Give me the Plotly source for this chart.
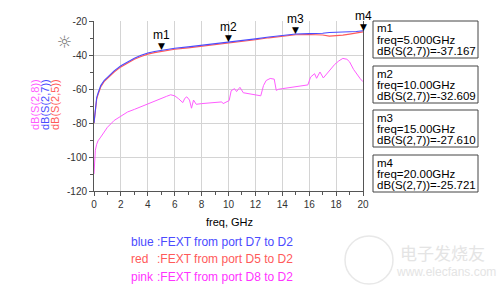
import plotly.graph_objects as go

# ---------------- data ----------------
freq_a = [0, 0.05, 0.1, 0.2, 0.3, 0.5, 0.75, 1, 1.5, 2, 2.5, 3, 3.5, 4, 4.5, 5,
          6, 7, 8, 9, 10, 11, 12, 13, 14, 15, 16, 16.5, 17, 17.5, 18, 18.5, 19, 19.5, 20]
s27_blue = [-80, -75, -70.5, -65, -62.5, -58, -55, -53, -49.3, -46.3, -43.9, -41.9, -40.2, -38.8, -37.9, -37.167,
            -36.0, -35.2, -34.3, -33.5, -32.609, -31.6, -30.5, -29.4, -28.4, -27.61, -27.4, -27.35, -27.2, -26.8, -26.6, -26.7, -26.6, -26.2, -25.721]
s25_red = [-80.2, -75.8, -71.5, -66, -63.3, -58.8, -55.7, -53.6, -50, -47, -44.5, -42.5, -40.9, -39.5, -38.6, -37.8,
           -36.6, -35.8, -34.9, -34.0, -33.1, -32.1, -31.0, -29.9, -28.9, -28.1, -27.9, -27.9, -28.2, -28.9, -28.7, -28.3, -27.7, -27.1, -26.4]

freq_p = [0, 0.03, 0.05, 0.1, 0.2, 0.3, 0.5, 0.75, 1, 1.5, 2, 2.5, 3, 3.5, 4, 4.5, 5, 5.4, 5.7, 6.0, 6.3, 6.6,
          6.75, 6.9, 7.1, 7.25, 7.4, 7.6, 8.0, 8.4, 8.8, 9.1, 9.5, 9.6, 9.9, 10.05, 10.2, 10.45, 10.6, 10.85,
          11.1, 11.6, 12.0, 12.4, 12.6, 12.8, 13.1, 13.4, 13.55, 13.7, 14.0, 14.5, 15.0, 15.5, 15.9, 16.1,
          16.4, 16.55, 16.8, 17.05, 17.3, 17.6, 17.9, 18.2, 18.5, 18.8, 19.0, 19.3, 19.6, 19.8, 20]
s28_pink = [-110, -104, -100, -96, -92.5, -90.5, -88.3, -85, -82.5, -78.5, -76, -73.5, -72, -70.3, -68.7, -67.2,
            -65.6, -64.3, -63.4, -64, -65.8, -68, -65.5, -64.6, -66.5, -71.3, -66.5, -69, -68.6, -68.3, -68.1,
            -68, -67.6, -68.6, -67.5, -66.8, -61, -59.8, -61.5, -59, -62.2, -63, -63.8, -64, -58, -55, -53.8,
            -54.2, -60.8, -60.2, -59.8, -59.2, -58.5, -58, -57.6, -53, -51, -53.7, -50, -53.5, -51, -48, -45.5,
            -43.5, -42, -42.5, -44, -48.5, -52, -54, -55.7]

marker_names = ["m1", "m2", "m3", "m4"]
marker_freq = [5, 10, 15, 20]
marker_freq_labels = ["5.000", "10.00", "15.00", "20.00"]
marker_db = [-37.167, -32.609, -27.610, -25.721]

x_ticks = [0, 2, 4, 6, 8, 10, 12, 14, 16, 18, 20]
y_ticks = [-120, -100, -80, -60, -40, -20]

legend_names = ["blue", "red", "pink"]
legend_texts = [":FEXT from port D7 to D2", ":FEXT from port D5 to D2", ":FEXT from port D8 to D2"]

# ---------------- style ----------------
BLUE = "#4b4bff"
RED = "#ff5a5a"
PINK = "#ff5cff"
FONT = "Liberation Sans, Arial, sans-serif"

L, R, T, B = 94, 137, 21, 97
W, H = 500, 288
PW, PH = W - L - R, H - T - B


def px_x(px):
    return (px - L) / PW


def px_y(py):
    return (H - B - py) / PH


fig = go.Figure()
fig.add_trace(go.Scatter(x=freq_p, y=s28_pink, mode="lines", line=dict(color=PINK, width=1), hoverinfo="skip"))
fig.add_trace(go.Scatter(x=freq_a, y=s25_red, mode="lines", line=dict(color=RED, width=1.1), hoverinfo="skip"))
fig.add_trace(go.Scatter(x=freq_a, y=s27_blue, mode="lines", line=dict(color=BLUE, width=1.1), hoverinfo="skip"))

ann = []
shapes = []
# marker triangles and labels
for name, f, d in zip(marker_names, marker_freq, marker_db):
    ann.append(dict(x=f, y=d, xref="x", yref="y", text="▼", showarrow=False,
                    yanchor="bottom", yshift=-3, font=dict(size=9, color="black", family="DejaVu Sans")))
    ann.append(dict(x=f, y=d, xref="x", yref="y", text=name, showarrow=False,
                    yanchor="bottom", yshift=6, font=dict(size=12, color="black", family=FONT)))

# marker readout boxes
box_tops = [21, 66, 110, 155]
BOX_H = 37
for name, fl, d, top in zip(marker_names, marker_freq_labels, marker_db, box_tops):
    shapes.append(dict(type="rect", xref="paper", yref="paper",
                       x0=px_x(373), x1=px_x(478), y0=px_y(top), y1=px_y(top + BOX_H),
                       line=dict(color="#444444", width=1), fillcolor="white", layer="above"))
    lines = [name, f"freq={fl}GHz", f"dB(S(2,7))={d:.3f}"]
    for k, ln in enumerate(lines):
        ann.append(dict(x=px_x(375), y=px_y(top + 7.5 + 11.3 * k), xref="paper", yref="paper",
                        xanchor="left", yanchor="middle", text=ln, showarrow=False,
                        font=dict(size=11.5, color="black", family=FONT)))

# y-axis titles (stacked, rotated)
for txt, col, xp in [("dB(S(2,8))", PINK, 35), ("dB(S(2,7))", BLUE, 45), ("dB(S(2,5))", RED, 55)]:
    ann.append(dict(x=px_x(xp), y=px_y(105), xref="paper", yref="paper", text=txt, textangle=-90,
                    showarrow=False, xanchor="center", yanchor="middle",
                    font=dict(size=11, color=col, family=FONT)))

# sun icon
ann.append(dict(x=px_x(55), y=px_y(30), xref="paper", yref="paper", text="☼", showarrow=False,
                font=dict(size=17, color="#777777", family="DejaVu Sans")))

# x-axis title
ann.append(dict(x=px_x(229), y=px_y(222), xref="paper", yref="paper", text="freq, GHz", showarrow=False,
                xanchor="center", yanchor="middle", font=dict(size=11, color="black", family=FONT)))

# bottom legend text
for nm, tx, col, yy in zip(legend_names, legend_texts, [BLUE, RED, "#ff33ff"], [242, 259, 277]):
    ann.append(dict(x=px_x(129), y=px_y(yy), xref="paper", yref="paper", text=nm, showarrow=False,
                    xanchor="left", yanchor="middle", font=dict(size=12, color=col, family=FONT)))
    ann.append(dict(x=px_x(155), y=px_y(yy), xref="paper", yref="paper", text=tx, showarrow=False,
                    xanchor="left", yanchor="middle", font=dict(size=12, color=col, family=FONT)))

# watermark
ann.append(dict(x=px_x(398), y=px_y(252), xref="paper", yref="paper", text="电子发烧友", showarrow=False,
                xanchor="left", yanchor="middle", font=dict(size=17, color="#e4e4e4", family="Noto Sans CJK SC")))
ann.append(dict(x=px_x(394), y=px_y(272), xref="paper", yref="paper", text="www.elecfans.com", showarrow=False,
                xanchor="left", yanchor="middle", font=dict(size=12, color="#e4e4e4", family=FONT)))

shapes.append(dict(type="circle", xref="paper", yref="paper", x0=px_x(345), x1=px_x(393), y0=px_y(284), y1=px_y(236),
                   line=dict(color="#e8e8e8", width=1.5)))

fig.update_layout(
    width=W, height=H, margin=dict(l=L, r=R, t=T, b=B),
    paper_bgcolor="white", plot_bgcolor="white", showlegend=False,
    annotations=ann, shapes=shapes,
    xaxis=dict(range=[0, 20], tickvals=x_ticks, ticktext=[str(v) for v in x_ticks],
               showgrid=True, gridcolor="#d4d4d4", gridwidth=1,
               showline=True, linecolor="#555555", linewidth=1, mirror=False,
               ticks="outside", ticklen=4, tickcolor="#555555", zeroline=False,
               minor=dict(dtick=1, ticks="outside", ticklen=3, tickcolor="#555555", showgrid=False),
               tickfont=dict(size=10, color="#333333", family=FONT)),
    yaxis=dict(range=[-120, -20], tickvals=y_ticks, ticktext=[str(v) for v in y_ticks],
               showgrid=True, gridcolor="#d4d4d4", gridwidth=1,
               showline=True, linecolor="#555555", linewidth=1, mirror=True,
               ticks="outside", ticklen=4, tickcolor="#555555", zeroline=False,
               minor=dict(dtick=10, ticks="outside", ticklen=3, tickcolor="#555555", showgrid=False),
               tickfont=dict(size=10, color="#333333", family=FONT)),
)

fig.write_html("out.html")
